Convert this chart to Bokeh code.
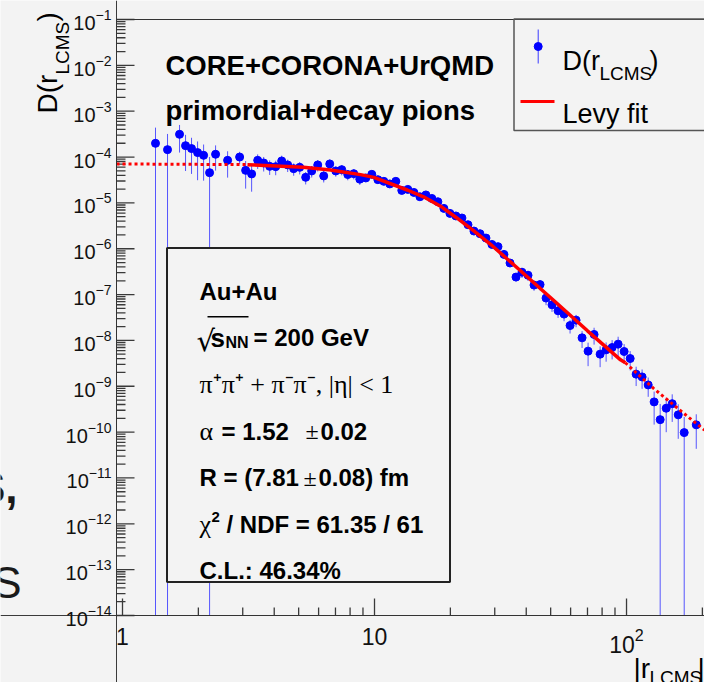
import math
import numpy as np
from bokeh.plotting import figure
from bokeh.models import Range1d, FixedTicker, LogTickFormatter, Label, BoxAnnotation, LogAxis
from bokeh.embed import file_html
from bokeh.resources import INLINE

# ---------------- data ----------------
r_lcms = [1.352, 1.509, 1.684, 1.779, 1.879, 1.986, 2.098, 2.216, 2.341, 2.613,
          2.916, 3.081, 3.254, 3.439, 3.633, 3.837, 4.054, 4.282, 4.524, 4.778,
          5.049, 5.333, 5.634, 5.953, 6.288, 6.644, 7.019, 7.413, 7.833, 8.275,
          8.743,
          9.235, 9.754, 10.31, 10.89, 11.50, 12.15, 12.83, 13.56, 14.33, 15.14,
          15.99, 16.89, 17.84, 18.85, 19.92, 21.04, 22.23, 23.49, 24.81, 26.21,
          27.69, 29.24, 30.90, 32.64, 34.49, 36.43, 38.48, 40.66, 42.95, 45.38,
          47.94, 50.63, 53.50, 56.51, 59.70, 63.07, 66.62, 70.39, 74.35, 78.56,
          82.99, 87.67, 92.62, 97.84, 103.4, 109.2, 115.3, 121.9, 128.7, 136.0,
          143.7, 151.8, 160.4, 169.4,
          189.1]

d_val = [1.99e-4, 1.45e-4, 3.13e-4, 1.77e-4, 1.53e-4, 1.25e-4, 1.09e-4, 4.56e-5, 1.15e-4, 8.47e-5,
         1.00e-4, 5.12e-5, 4.28e-5, 8.47e-5, 7.43e-5, 6.26e-5, 6.17e-5, 8.22e-5, 6.73e-5, 5.58e-5,
         5.96e-5, 3.61e-5, 4.97e-5, 6.73e-5, 3.87e-5, 7.07e-5, 4.97e-5, 5.31e-5, 4.15e-5, 4.34e-5,
         3.29e-5,
         3.50e-5, 4.19e-5, 3.21e-5, 2.95e-5, 2.59e-5, 2.95e-5, 1.87e-5, 1.97e-5, 1.69e-5, 1.36e-5,
         1.49e-5, 1.25e-5, 1.06e-5, 7.59e-6, 5.90e-6, 5.18e-6, 4.68e-6, 3.34e-6, 2.43e-6, 2.13e-6,
         1.71e-6, 1.24e-6, 1.11e-6, 7.52e-7, 4.88e-7, 2.41e-7, 3.07e-7, 2.64e-7, 1.61e-7, 1.65e-7,
         8.39e-8, 5.98e-8, 4.43e-8, 3.75e-8, 2.11e-8, 2.77e-8, 1.14e-8, 5.84e-9, 1.35e-8, 5.02e-9,
         6.24e-9, 7.00e-9, 8.30e-9, 5.73e-9, 4.03e-9, 1.84e-9, 1.60e-9, 1.07e-9, 4.56e-10, 1.87e-10,
         3.32e-10, 4.17e-10, 2.38e-10, 9.75e-11,
         1.44e-10]

d_relerr = [1.2, 1.2, 0.6, 0.72, 0.72, 0.75, 0.72, 1.2, 0.56, 0.58,
            0.3, 0.6, 0.59, 0.35, 0.35, 0.35, 0.35, 0.3, 0.3, 0.3,
            0.3, 0.3, 0.28, 0.28, 0.28, 0.25, 0.25, 0.25, 0.25, 0.25,
            0.25,
            0.15, 0.15, 0.12, 0.12, 0.12, 0.12, 0.12, 0.12, 0.12, 0.12,
            0.12, 0.12, 0.12, 0.12, 0.12, 0.12, 0.12, 0.12, 0.12, 0.12,
            0.12, 0.12, 0.15, 0.15, 0.15, 0.2, 0.25, 0.25, 0.25, 0.25,
            0.3, 0.3, 0.3, 0.3, 0.33, 0.3, 0.4, 0.53, 0.4, 0.48,
            0.45, 0.45, 0.45, 0.45, 0.45, 0.45, 0.45, 0.45, 0.68, 1.2,
            0.7, 0.6, 0.7, 1.2,
            0.7]

fit_r = [0.947, 3.133, 5.229, 6.688, 8.800, 9.936, 13.49, 15.65, 18.28, 21.15, 24.71,
         28.86, 33.71, 37.97, 45.58, 51.32, 70.0, 94.67, 98.9, 128.0, 174.6, 203.9]
fit_d = [7.07e-5, 6.83e-5, 5.96e-5, 5.23e-5, 4.13e-5, 3.60e-5, 1.91e-5, 1.36e-5, 8.47e-6, 4.75e-6, 2.47e-6,
         1.25e-6, 5.90e-7, 3.31e-7, 1.34e-7, 7.51e-8, 1.62e-8, 3.77e-9, 3.26e-9, 9.0e-10, 2.20e-10, 1.11e-10]
fit_lo, fit_hi = 3.133, 98.9

x_ticks = [1, 10, 100]
y_ticks = [1e-14, 1e-13, 1e-12, 1e-11, 1e-10, 1e-9, 1e-8, 1e-7, 1e-6, 1e-5, 1e-4, 1e-3, 1e-2, 1e-1]

# ---------------- layout ----------------
W, H = 704, 682
# ROOT frame in canvas pixels
FL, FR, FT, FB = 116, 704, 19, 615
X0, X1 = 0.9467, 203.9
Y0, Y1 = 1e-14, 1e-1
BG = "#f3f3f3"
FONT = "Liberation Sans"
SERIF = "Liberation Serif"
TICK = "#3a3a3a"

lx0, lx1 = math.log10(X0), math.log10(X1)
ly0, ly1 = math.log10(Y0), math.log10(Y1)


def sx(px):
    return 10 ** (lx0 + (px - FL) / (FR - FL) * (lx1 - lx0))


def sy(py):
    return 10 ** (ly1 - (py - FT) / (FB - FT) * (ly1 - ly0))


p = figure(width=W, height=H, x_axis_type="log", y_axis_type="log",
           x_range=Range1d(sx(0), sx(W)), y_range=Range1d(sy(H), sy(0)),
           x_axis_location=None, y_axis_location=None,
           output_backend="svg", toolbar_location=None, title=None, min_border=0)
p.background_fill_color = BG
p.border_fill_color = BG
p.grid.visible = False
p.outline_line_color = None

x_minor = [m * 10.0 ** e for e in range(0, 3) for m in range(2, 10) if m * 10.0 ** e <= X1]
y_minor = [m * 10.0 ** e for e in range(-14, -1) for m in range(2, 10)]

xaxis = LogAxis(fixed_location=Y0)
yaxis = LogAxis(fixed_location=X0)
p.add_layout(xaxis, "below")
p.add_layout(yaxis, "left")
xaxis.ticker = FixedTicker(ticks=x_ticks, minor_ticks=x_minor)
yaxis.ticker = FixedTicker(ticks=y_ticks, minor_ticks=y_minor)
xaxis.formatter = LogTickFormatter(min_exponent=2)
yaxis.formatter = LogTickFormatter()

for ax, fs, so in ((xaxis, "23px", 12), (yaxis, "20px", 5)):
    ax.major_tick_in = 0
    ax.major_tick_out = 0
    ax.minor_tick_in = 0
    ax.minor_tick_out = 0
    ax.axis_line_color = TICK
    ax.major_label_text_font = FONT
    ax.major_label_text_font_size = fs
    ax.major_label_text_color = "#111111"
    ax.major_label_standoff = so

# inward ROOT-style tick marks at the ticker positions
tick_kw = dict(line_color=TICK, line_width=1.3)
p.segment(x0=x_ticks, y0=[Y0] * len(x_ticks), x1=x_ticks, y1=[sy(FB - 17)] * len(x_ticks), **tick_kw)
p.segment(x0=x_minor, y0=[Y0] * len(x_minor), x1=x_minor, y1=[sy(FB - 8)] * len(x_minor), **tick_kw)
p.segment(x0=[X0] * len(y_ticks), y0=y_ticks, x1=[sx(FL + 18)] * len(y_ticks), y1=y_ticks, **tick_kw)
p.segment(x0=[X0] * len(y_minor), y0=y_minor, x1=[sx(FL + 9)] * len(y_minor), y1=y_minor, **tick_kw)

# ROOT frame outline
p.add_layout(BoxAnnotation(left=X0, right=X1, top=Y1, bottom=Y0, fill_alpha=0,
                           line_color="#333333", line_alpha=1.0, line_width=1))

# ---------------- data marks ----------------
xv = np.array(r_lcms)
yv = np.array(d_val)
ev = yv * np.array(d_relerr)
ylo = np.maximum(yv - ev, Y0)
yhi = yv + ev

p.segment(x0=xv, y0=ylo, x1=xv, y1=yhi, line_color="#3a3aff", line_width=1, line_alpha=0.85)
p.scatter(xv, yv, size=8, marker="circle", fill_color="#0000ff", line_color="#0000ff")

fr = np.array(fit_r)
fd = np.array(fit_d)
inner = (fr >= fit_lo) & (fr <= fit_hi)
left = fr <= fit_lo
right = fr >= fit_hi
p.line(fr[left], fd[left], line_color="#ff0000", line_width=3, line_dash="3 3")
p.line(fr[right], fd[right], line_color="#ff0000", line_width=3, line_dash="3 3")
p.line(fr[inner], fd[inner], line_color="#ff0000", line_width=3.5)

# ---------------- stats box ----------------
p.add_layout(BoxAnnotation(left=sx(166.5), right=sx(449.5), top=sy(247.5), bottom=sy(581.5),
                           fill_color=BG, fill_alpha=1.0, line_color="#222222", line_alpha=1.0,
                           line_width=2))
# legend box
p.add_layout(BoxAnnotation(left=sx(513.5), right=sx(730), top=sy(18.5), bottom=sy(130),
                           fill_alpha=0.0, line_color="#555555", line_alpha=1.0, line_width=1.5))
# overline of the square root
p.add_layout(BoxAnnotation(left=sx(207), right=sx(248), top=sy(315.6), bottom=sy(317.0),
                           fill_color="black", fill_alpha=1.0, line_alpha=0))


def lab(px, py, text, size, bold=False, font=FONT, angle=0.0, align="left", color="black"):
    p.add_layout(Label(x=sx(px), y=sy(py), text=text, text_font=font, text_font_size=size,
                       text_font_style="bold" if bold else "normal", text_color=color,
                       text_align=align, text_baseline="alphabetic", angle=angle))


# legend content
p.segment(x0=[sx(537.7)], y0=[sy(29)], x1=[sx(537.7)], y1=[sy(63)], line_color="#3a3aff", line_width=1)
p.scatter([sx(537.7)], [sy(46)], size=8, marker="circle", fill_color="#0000ff", line_color="#0000ff")
p.segment(x0=[sx(520)], y0=[sy(101)], x1=[sx(554)], y1=[sy(101)], line_color="#ff0000", line_width=3)
lab(562, 60, "D(r", "27px")
lab(599, 72.5, "LCMS", "19px")
lab(649, 60, ")", "27px")
lab(562, 113, "Levy fit", "27px")

# titles
lab(165, 65, "CORE+CORONA+UrQMD", "27.5px", bold=True)
lab(165, 110, "primordial+decay pions", "27.5px", bold=True)

# stats text
lab(199, 291, "Au+Au", "24px", bold=True)
lab(196, 340, "\u221a", "29px", font="DejaVu Sans")
lab(210, 337, "s", "26px", bold=True)
lab(225, 341.5, "NN", "16px", bold=True)
lab(253, 337, "= 200 GeV", "24px", bold=True)
lab(199, 384, "\u03c0\u207a\u03c0\u207a + \u03c0\u207b\u03c0\u207b, |\u03b7| < 1", "26px", font=SERIF)
lab(199, 430.5, "\u03b1", "26px", font=SERIF)
lab(221, 430.5, "= 1.52", "24px", bold=True)
lab(305, 430.5, "\u00b1", "24px", font=SERIF)
lab(320, 430.5, "0.02", "24px", bold=True)
lab(199, 477, "R = (7.81", "24px", bold=True)
lab(303, 477, "\u00b1", "24px", font=SERIF)
lab(318, 477, "0.08) fm", "24px", bold=True)
lab(199, 523.5, "\u03c7", "26px", font=SERIF)
lab(211, 516, "2", "15px", bold=True)
lab(226, 523.5, "/ NDF = 61.35 / 61", "24px", bold=True)
lab(199, 570, "C.L.: 46.34%", "24px", bold=True)

# axis titles
lab(47, 113, "D(r", "28px", angle=math.pi / 2)
lab(62, 74, "LCMS", "19px", angle=math.pi / 2)
lab(47, 21, ")", "28px", angle=math.pi / 2)
lab(633, 668, "|r", "28px")
lab(649, 677, "LCMS", "19px")
lab(697, 668, "|", "28px")

# fragments of slide text cut at the left edge
lab(17, 487, "S,", "44px", bold=True, align="right", color="#1a1a1a")
lab(21, 582, "S", "44px", align="right", color="#1a1a1a")

open("out.html", "w").write(file_html(p, INLINE))
